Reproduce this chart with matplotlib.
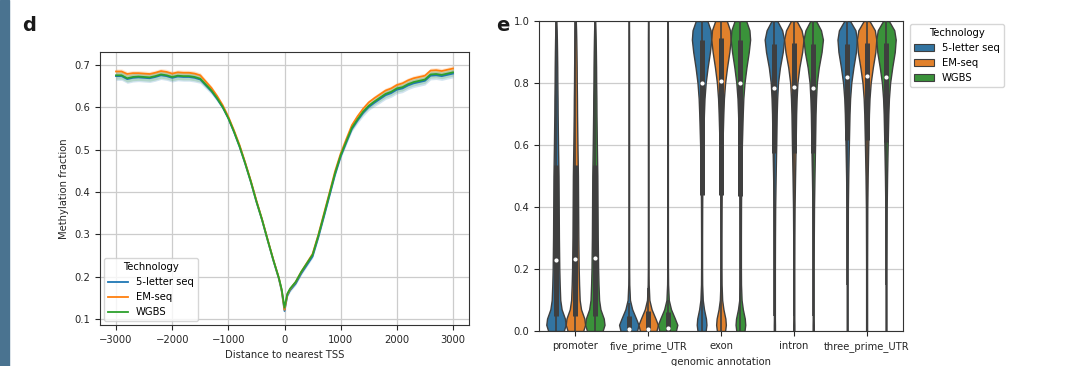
import numpy as np
import matplotlib
matplotlib.use('Agg')
import matplotlib.pyplot as plt
from matplotlib.patches import Rectangle, Patch

# ---- panel d: methylation around TSS ----
dist = [-3000, -2900, -2800, -2700, -2600, -2500, -2400, -2300, -2200, -2100,
        -2000, -1900, -1800, -1700, -1600, -1500, -1400, -1300, -1200, -1100,
        -1000, -900, -800, -700, -600, -500, -400, -300, -200, -100, -50, 0, 50,
        100, 200, 300, 400, 500, 600, 700, 800, 900, 1000, 1100, 1200, 1300,
        1400, 1500, 1600, 1700, 1800, 1900, 2000, 2100, 2200, 2300, 2400, 2500,
        2600, 2700, 2800, 2900, 3000]

meth_5l = [.674, .674, .667, .670, .671, .670, .669, .672, .676, .674,
           .670, .673, .672, .672, .670, .666, .652, .638, .620, .600,
           .574, .542, .507, .467, .424, .377, .334, .286, .239, .195, .166, .119, .155,
           .168, .184, .208, .228, .248, .292, .341, .391, .441, .484, .517, .549, .569,
           .587, .601, .611, .620, .629, .634, .642, .645, .652, .657, .660, .663,
           .675, .676, .674, .677, .680]
meth_em = [.685, .685, .679, .681, .681, .680, .679, .682, .686, .684,
           .680, .683, .682, .682, .680, .676, .661, .646, .627, .605,
           .578, .546, .511, .470, .427, .380, .336, .288, .241, .197, .168, .122, .158,
           .171, .188, .212, .233, .254, .298, .348, .398, .449, .491, .525, .558, .579,
           .597, .612, .622, .631, .640, .645, .653, .657, .664, .669, .672, .675,
           .687, .688, .686, .689, .692]
meth_wg = [.676, .676, .669, .672, .673, .672, .671, .674, .678, .676,
           .672, .675, .674, .674, .672, .668, .654, .640, .622, .601,
           .575, .543, .508, .468, .425, .378, .335, .287, .240, .197, .170, .127, .160,
           .172, .188, .212, .232, .252, .296, .345, .395, .445, .487, .520, .552, .572,
           .590, .604, .614, .623, .632, .637, .645, .648, .655, .660, .663, .666,
           .678, .679, .677, .680, .683]

# confidence band half-widths
ci_5l = [.010, .010, .010, .010, .010, .010, .010, .010, .010, .010,
         .010, .010, .010, .010, .010, .009, .008, .007, .006, .005,
         .004, .004, .004, .004, .004, .004, .004, .004, .004, .004, .004, .005, .004,
         .004, .004, .004, .004, .004, .004, .004, .004, .004, .005, .006, .006, .007,
         .008, .008, .009, .010, .010, .010, .010, .010, .010, .010, .010, .010,
         .010, .010, .010, .010, .010]
ci_em = [.006, .006, .006, .006, .006, .006, .006, .006, .006, .006,
         .006, .006, .006, .006, .006, .006, .005, .005, .004, .004,
         .003, .003, .003, .003, .003, .003, .003, .003, .003, .003, .003, .004, .003,
         .003, .003, .003, .003, .003, .003, .003, .003, .003, .003, .004, .004, .005,
         .005, .005, .006, .006, .006, .006, .006, .006, .006, .006, .006, .006,
         .006, .006, .006, .006, .007]
ci_wg = [.009, .009, .009, .009, .009, .009, .009, .009, .009, .009,
         .009, .009, .009, .009, .009, .008, .007, .006, .005, .005,
         .004, .004, .004, .004, .004, .004, .004, .004, .004, .004, .004, .005, .004,
         .004, .004, .004, .004, .004, .004, .004, .004, .004, .005, .005, .006, .006,
         .007, .007, .008, .009, .009, .009, .009, .009, .009, .009, .009, .009,
         .009, .009, .009, .009, .009]

techs = ['5-letter seq', 'EM-seq', 'WGBS']
line_colors = ['#1f77b4', '#ff7f0e', '#2ca02c']
violin_colors = ['#3274a1', '#e1812c', '#3a923a']

# ---- panel e: violin profiles (relative density at each level) ----
annotations = ['promoter', 'five_prime_UTR', 'exon', 'intron', 'three_prime_UTR']
levels = [0.0, 0.02, 0.04, 0.07, 0.1, 0.15, 0.2, 0.3, 0.4, 0.5, 0.6, 0.7, 0.75,
          0.8, 0.85, 0.9, 0.94, 0.97, 1.0]
dens_promoter = [.80, 1.0, .92, .58, .44, .38, .34, .30, .28, .26, .21, .17, .16,
                 .14, .13, .11, .09, .07, .04]
dens_five = [.85, 1.0, .75, .35, .12, .05, .035, .03, .03, .03, .03, .03, .03,
             .03, .03, .03, .03, .025, .02]
dens_exon = [.42, .50, .45, .25, .12, .06, .05, .05, .06, .09, .15, .24, .30,
             .42, .62, .86, 1.0, .93, .60]
dens_intron = [.06, .06, .05, .05, .05, .05, .05, .06, .08, .13, .19, .24, .29,
               .37, .57, .86, 1.0, .80, .30]
dens_three = [.05, .05, .05, .05, .05, .05, .05, .06, .07, .11, .17, .24, .30,
              .42, .64, .90, 1.0, .85, .30]

# box stats per annotation, one value per technology
q1 = [[.05, .05, .05], [0, 0, 0], [.44, .44, .435], [.575, .575, .575], [.615, .615, .61]]
med = [[.23, .232, .235], [.005, .007, .01], [.80, .805, .80], [.785, .787, .785], [.82, .823, .82]]
q3 = [[.535, .535, .535], [.05, .065, .06], [.94, .945, .94], [.925, .93, .925], [.925, .93, .928]]
wlo = [[0, 0, 0], [0, 0, 0], [0, 0, 0], [.05, .05, .05], [.15, .18, .15]]
whi = [[1, 1, 1], [.09, .14, .10], [1, 1, 1], [1, 1, 1], [1, 1, 1]]

text_color = '#262626'
fs = 7.2
plt.rcParams['font.family'] = ['DejaVu Sans']
plt.rcParams['font.size'] = fs

fig = plt.figure(figsize=(10.86, 3.66), dpi=100)
fig.patches.append(Rectangle((0, 0), 9 / 1086, 1, transform=fig.transFigure,
                             color='#4a7390', zorder=0))

# panel d
ax1 = fig.add_axes([100 / 1086, 1 - 325 / 366, 369 / 1086, 273 / 366])
for vals, ci, c, lab in zip([meth_5l, meth_em, meth_wg], [ci_5l, ci_em, ci_wg], line_colors, techs):
    v = np.array(vals)
    e = np.array(ci)
    ax1.fill_between(dist, v - e, v + e, color=c, alpha=0.2, linewidth=0)
    ax1.plot(dist, v, color=c, linewidth=1.3, label=lab)
ax1.set_xlim(-3285, 3285)
ax1.set_ylim(0.086, 0.731)
ax1.set_xticks([-3000, -2000, -1000, 0, 1000, 2000, 3000])
ax1.set_yticks([0.1, 0.2, 0.3, 0.4, 0.5, 0.6, 0.7])
ax1.grid(True, color='#cccccc', linewidth=0.9)
ax1.set_axisbelow(True)
ax1.set_xlabel('Distance to nearest TSS', color=text_color)
ax1.set_ylabel('Methylation fraction', color=text_color)
ax1.legend(title='Technology', loc='lower left', fontsize=fs, title_fontsize=fs,
           handlelength=2.0, borderaxespad=0.4)

# panel e
ax2 = fig.add_axes([539 / 1086, 1 - 331 / 366, 364 / 1086, 310 / 366])
dens_all = [dens_promoter, dens_five, dens_exon, dens_intron, dens_three]
w = 0.8 / 3
offsets = [-w, 0, w]
for i, dens in enumerate(dens_all):
    for j in range(3):
        pos = i + offsets[j]
        stats = [dict(coords=np.array(levels), vals=np.array(dens), mean=med[i][j],
                      median=med[i][j], min=0.0, max=1.0)]
        parts = ax2.violin(stats, positions=[pos], widths=w, showextrema=False)
        for b in parts['bodies']:
            b.set_facecolor(violin_colors[j])
            b.set_edgecolor('#3f3f3f')
            b.set_linewidth(1.0)
            b.set_alpha(1)
            b.set_zorder(2)
        ax2.vlines(pos, wlo[i][j], whi[i][j], color='#3f3f3f', linewidth=1.2, zorder=3)
        ax2.vlines(pos, q1[i][j], q3[i][j], color='#3f3f3f', linewidth=3.6, zorder=3)
        ax2.plot(pos, med[i][j], 'o', color='white', markersize=2.0, zorder=4)
ax2.set_xlim(-0.5, 4.5)
ax2.set_ylim(0, 1.0)
ax2.set_xticks(range(5))
ax2.set_xticklabels(annotations)
ax2.set_yticks([0, 0.2, 0.4, 0.6, 0.8, 1.0])
ax2.yaxis.grid(True, color='#cccccc', linewidth=0.9)
ax2.set_axisbelow(True)
ax2.set_xlabel('genomic annotation', color=text_color)
handles = [Patch(facecolor=c, edgecolor='#3f3f3f', linewidth=0.8) for c in violin_colors]
ax2.legend(handles, techs, title='Technology', loc='upper left', bbox_to_anchor=(1.01, 1.0),
           fontsize=fs, title_fontsize=fs, borderaxespad=0.3)

for ax in (ax1, ax2):
    ax.tick_params(colors=text_color, labelsize=fs)
    for s in ax.spines.values():
        s.set_color('#333333')

fig.text(22 / 1086, 1 - 31 / 366, 'd', fontsize=14, fontweight='bold', color='#1a1a1a')
fig.text(496 / 1086, 1 - 31 / 366, 'e', fontsize=14, fontweight='bold', color='#1a1a1a')

fig.savefig('out.png', dpi=100)
